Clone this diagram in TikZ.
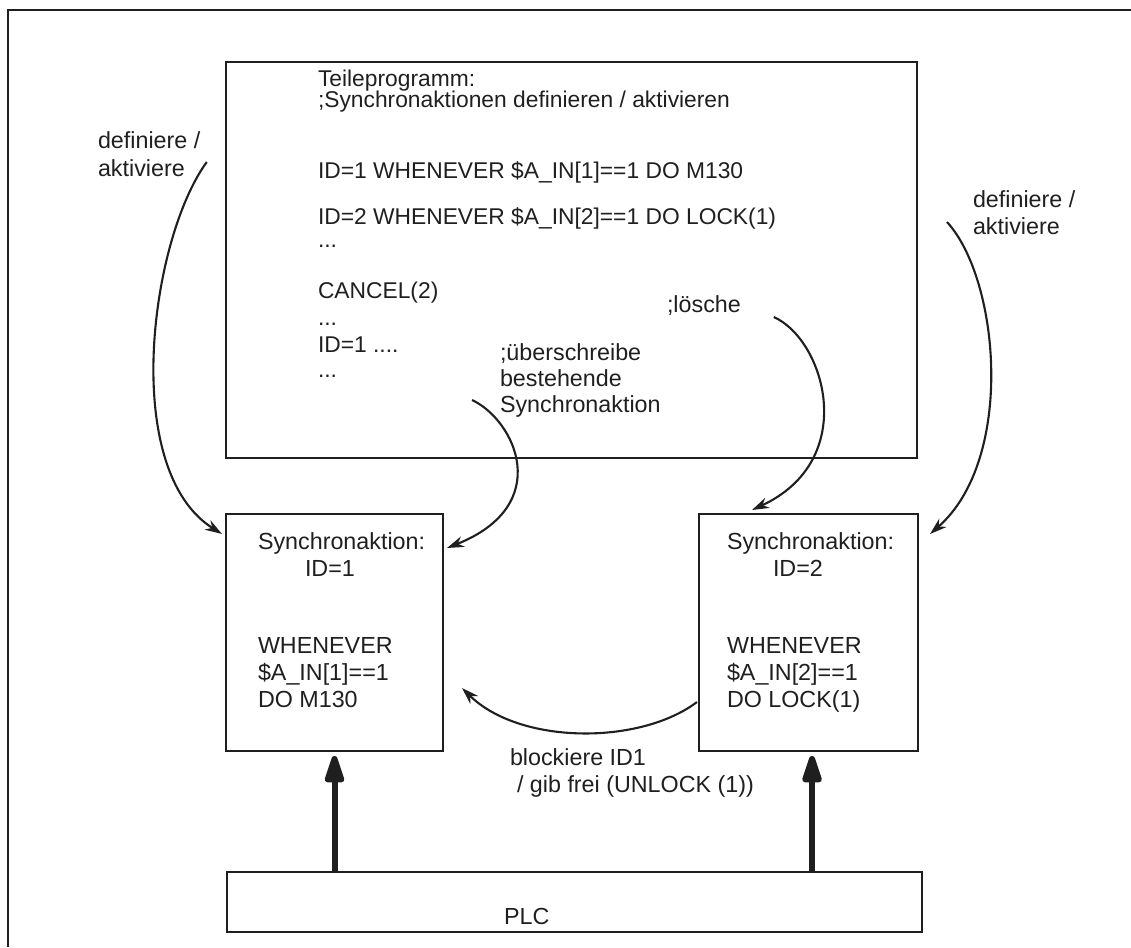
\documentclass[tikz,border=0pt]{standalone}
\usepackage{fontspec}
\setmainfont{Liberation Sans}
\usetikzlibrary{arrows.meta,calc}
\begin{document}
\begin{tikzpicture}[x=1pt,y=-1pt,
  box/.style={draw=black!88,line width=2.3pt,inner sep=0pt,outer sep=0pt,rectangle},
  txt/.style={inner sep=0pt,outer sep=0pt,anchor=base west,font=\fontsize{23.3}{26}\selectfont,text=black!88},
  ptxt/.style={txt,font=\fontsize{22.8}{25}\selectfont},
  curved/.style={draw=black!88,line width=2.1pt,-{Stealth[length=17pt,width=11pt]}},
  bigarrow/.style={draw=black!88,line width=6pt,-{Triangle[length=34pt,width=20pt,round]}}
]
\useasboundingbox (0,0) rectangle (1131,947);
% outer frame (only top and left visible)
\draw[black!88,line width=2.7pt] (1131,10) -- (8,10) -- (8,947);

\node[box,minimum width=691pt,minimum height=396pt] (prog) at (571.5,260) {};
\node[box,minimum width=217pt,minimum height=237pt] (sa1) at (334.5,632.5) {};
\node[box,minimum width=219pt,minimum height=237pt] (sa2) at (808.5,632.5) {};
\node[box,minimum width=695pt,minimum height=60pt] (plc) at (574.5,902) {};

\node[ptxt] (p1) at (318,87) {Teileprogramm:};
\node[ptxt] (p2) at (318,108) {;Synchronaktionen definieren / aktivieren};
\node[ptxt] (p3) at (318,178) {ID=1 WHENEVER \$A\_IN[1]==1 DO M130};
\node[ptxt] (p4) at (318,224) {ID=2 WHENEVER \$A\_IN[2]==1 DO LOCK(1)};
\node[ptxt] (p5) at (318,247) {...};
\node[ptxt] (p6) at (318,298) {CANCEL(2)};
\node[ptxt] (p7) at (318,325) {...};
\node[ptxt] (p8) at (318,352) {ID=1 ....};
\node[ptxt] (p9) at (318,377) {...};

\node[txt] (defl1) at (98,148) {definiere /};
\node[txt] (defl2) at (98,176) {aktiviere};
\node[txt] (defr1) at (973,207) {definiere /};
\node[txt] (defr2) at (973,234) {aktiviere};
\node[txt] (loe) at (667,312) {;lösche};
\node[txt] (ueb1) at (500,360) {;überschreibe};
\node[txt] (ueb2) at (500,386) {bestehende};
\node[txt] (ueb3) at (500,412) {Synchronaktion};

\node[txt] (s1a) at (258,549) {Synchronaktion:};
\node[txt] (s1b) at (305,576) {ID=1};
\node[txt] (s1c) at (258,653) {WHENEVER};
\node[txt] (s1d) at (258,680) {\$A\_IN[1]==1};
\node[txt] (s1e) at (258,707) {DO M130};
\node[txt] (s2a) at (727,549) {Synchronaktion:};
\node[txt] (s2b) at (773,576) {ID=2};
\node[txt] (s2c) at (727,653) {WHENEVER};
\node[txt] (s2d) at (727,680) {\$A\_IN[2]==1};
\node[txt] (s2e) at (727,707) {DO LOCK(1)};

\node[txt] (blk1) at (510,765) {blockiere ID1};
\node[txt] (blk2) at (517,792) {/ gib frei (UNLOCK (1))};
\node[txt] (plct) at (504,924) {PLC};

% thick arrows from PLC
\draw[bigarrow] (sa1.south |- plc.north) -- ([yshift=-5pt]sa1.south);
\draw[bigarrow] ([xshift=3.5pt]sa2.south |- plc.north) -- ([xshift=3.5pt,yshift=-5pt]sa2.south);

% curved arrows
\draw[curved] ($(defl2.base east)+(22,-14)$) .. controls (150,240) and (120,470) .. ($(sa1.north west)+(-4,20)$);
\draw[curved] ($(defr2.base west)+(-26,-12)$) .. controls (1000,280) and (1015,460) .. ($(sa2.north east)+(12,20)$);
\draw[curved] ($(loe.base east)+(33,5)$) .. controls (825,340) and (860,460) .. ($(sa2.north west)+(53,-4)$);
\draw[curved] ($(ueb3.base west)+(-28,-12)$) .. controls (515,420) and (555,505) .. ($(sa1.north east)+(4,34)$);
\draw[curved] ($(sa2.west)+(-2,69.5)$) .. controls (640,745) and (520,745) .. ($(sa1.east)+(19,55.5)$);
\end{tikzpicture}
\end{document}
